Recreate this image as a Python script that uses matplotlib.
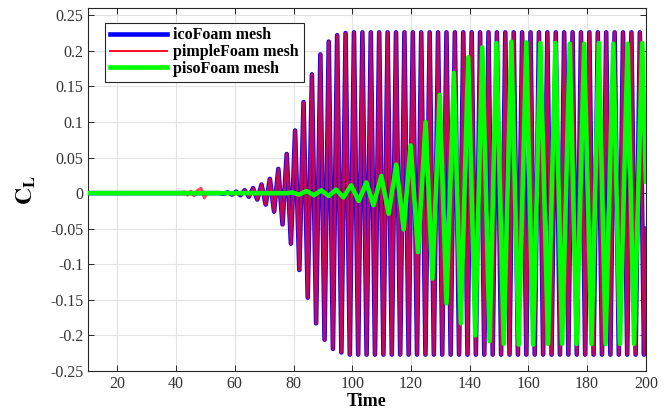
"""
Coeficiente de sustentación C_L vs tiempo: icoFoam / pimpleFoam / pisoFoam
Valores leídos de la figura (extremos de cada oscilación).
"""

import matplotlib
matplotlib.use("Agg")
import matplotlib.pyplot as plt
import matplotlib.ticker as mticker

# ─────────────────────────────────────────────
# DATOS (tiempo, C_L) en los picos y valles
# ─────────────────────────────────────────────

ico_t = [
    10.0, 55.0,
    56.20, 57.63, 59.06, 60.50, 61.93, 63.36, 64.79, 66.22, 67.66, 69.09,
    70.52, 71.95, 73.38, 74.82, 76.25, 77.68, 79.11, 80.54, 81.98, 83.41,
    84.84, 86.27, 87.70, 89.14, 90.57, 92.00, 93.43, 94.86, 96.30, 97.73,
    99.16, 100.59, 102.02, 103.46, 104.89, 106.32, 107.75, 109.18, 110.62, 112.05,
    113.48, 114.91, 116.34, 117.78, 119.21, 120.64, 122.07, 123.50, 124.94, 126.37,
    127.80, 129.23, 130.66, 132.10, 133.53, 134.96, 136.39, 137.82, 139.26, 140.69,
    142.12, 143.55, 144.98, 146.42, 147.85, 149.28, 150.71, 152.14, 153.58, 155.01,
    156.44, 157.87, 159.30, 160.74, 162.17, 163.60, 165.03, 166.46, 167.90, 169.33,
    170.76, 172.19, 173.62, 175.06, 176.49, 177.92, 179.35, 180.78, 182.22, 183.65,
    185.08, 186.51, 187.94, 189.38, 190.81, 192.24, 193.67, 195.10, 196.54, 197.97,
    199.40, 200.0,
]
ico_cl = [
    0.0, 0.0,
    -0.001, 0.001, -0.002, 0.002, -0.003, 0.004, -0.005, 0.007, -0.009, 0.012,
    -0.016, 0.020, -0.026, 0.034, -0.044, 0.055, -0.071, 0.088, -0.108, 0.128,
    -0.147, 0.167, -0.183, 0.195, -0.206, 0.213, -0.219, 0.222, -0.224, 0.225,
    -0.227, 0.226, -0.227, 0.226, -0.227, 0.226, -0.227, 0.226, -0.227, 0.226,
    -0.227, 0.226, -0.227, 0.226, -0.227, 0.226, -0.227, 0.226, -0.227, 0.226,
    -0.227, 0.226, -0.227, 0.226, -0.227, 0.226, -0.227, 0.226, -0.227, 0.226,
    -0.227, 0.226, -0.227, 0.226, -0.227, 0.226, -0.227, 0.226, -0.227, 0.226,
    -0.227, 0.226, -0.227, 0.226, -0.227, 0.226, -0.227, 0.226, -0.227, 0.226,
    -0.227, 0.226, -0.227, 0.226, -0.227, 0.226, -0.227, 0.226, -0.227, 0.226,
    -0.227, 0.226, -0.227, 0.226, -0.227, 0.226, -0.227, 0.226, -0.227, 0.226,
    -0.227, -0.050,
]

# pimpleFoam: transitorio inicial (t≈42–50) y luego sigue a icoFoam
pimple_early_t = [10.0, 42.0, 42.8, 43.9, 45.0, 46.1, 47.3, 48.5, 49.6, 50.6]
pimple_early_cl = [0.0, 0.0, 0.002, -0.003, 0.003, -0.004, 0.004, 0.007, -0.007, 0.0]

piso_t = [
    10.0, 78.0,
    79.5, 82.0, 84.4, 87.0, 89.4, 92.0, 94.5, 97.0, 99.6, 102.2,
    104.8, 107.2, 109.9, 112.4, 115.0, 117.5, 119.9, 122.4, 125.0, 127.3,
    129.8, 132.1, 134.6, 137.0, 139.5, 141.9, 144.3, 146.8, 149.1, 151.6,
    154.2, 156.7, 159.3, 161.6, 164.1, 166.7, 169.2, 171.5, 174.1, 176.4,
    179.0, 181.5, 184.0, 186.3, 188.9, 191.2, 193.8, 196.0, 198.8, 200.0,
]
piso_cl = [
    0.0, 0.0,
    0.001, -0.002, 0.003, -0.003, 0.004, -0.004, 0.005, -0.006, 0.011, -0.011,
    0.015, -0.017, 0.024, -0.029, 0.040, -0.051, 0.067, -0.083, 0.100, -0.120,
    0.138, -0.155, 0.169, -0.183, 0.191, -0.200, 0.205, -0.208, 0.211, -0.212,
    0.213, -0.213, 0.212, -0.213, 0.211, -0.212, 0.211, -0.212, 0.210, -0.212,
    0.210, -0.212, 0.211, -0.212, 0.210, -0.212, 0.210, -0.212, 0.211, 0.016,
]

etiquetas = ["icoFoam mesh", "pimpleFoam mesh", "pisoFoam mesh"]
x_ticks = [20, 40, 60, 80, 100, 120, 140, 160, 180, 200]
y_ticks = [-0.25, -0.2, -0.15, -0.1, -0.05, 0, 0.05, 0.1, 0.15, 0.2, 0.25]

# ─────────────────────────────────────────────
# FIGURA
# ─────────────────────────────────────────────

plt.rcParams["font.family"] = ["Liberation Serif", "DejaVu Serif"]
plt.rcParams["mathtext.fontset"] = "stix"

fig = plt.figure(figsize=(6.72, 4.09), dpi=100)
ax = fig.add_axes([0.131, 0.093, 0.830, 0.887])

pimple_t = pimple_early_t + ico_t[2:]
pimple_cl = pimple_early_cl + ico_cl[2:]

ax.plot(ico_t, ico_cl, color="#1a00e6", linewidth=3.3,
        solid_joinstyle="round", label=etiquetas[0], zorder=3)
ax.plot(pimple_t, pimple_cl, color="#ff0a2a", linewidth=2.0, alpha=0.75,
        solid_joinstyle="round", label=etiquetas[1], zorder=4)
ax.plot(piso_t, piso_cl, color="#00ff00", linewidth=3.3,
        solid_joinstyle="round", label=etiquetas[2], zorder=5)

ax.set_xlim(10, 200)
ax.set_ylim(-0.25, 0.26)
ax.set_xticks(x_ticks)
ax.set_yticks(y_ticks)
ax.yaxis.set_major_formatter(mticker.FuncFormatter(lambda v, p: f"{v:g}"))

ax.grid(True, color="#e3e3e3", linewidth=0.8)
ax.set_axisbelow(True)
for s in ax.spines.values():
    s.set_color("#262626")
    s.set_linewidth(0.8)
ax.tick_params(direction="in", length=4, width=0.7, top=True, right=True,
               colors="#262626", labelcolor="#333333", labelsize=11.5)

ax.set_xlabel("Time", fontsize=13, fontweight="bold")
ax.xaxis.set_label_coords(0.5, -0.062)
ax.set_ylabel(r"$\mathbf{C_L}$", fontsize=17)
ax.yaxis.set_label_coords(-0.09, 0.5)

leg = ax.legend(loc="upper left", bbox_to_anchor=(0.03, 0.96), borderaxespad=0,
                fancybox=False, edgecolor="#262626", framealpha=1,
                prop={"weight": "bold", "size": 11.5}, handlelength=3.6,
                labelspacing=0.05, borderpad=0.3, handletextpad=0.4)
leg.get_frame().set_linewidth(0.8)
leg.get_lines()[0].set_color("#0000ff")
leg.get_lines()[1].set_linewidth(1.4)
leg.get_lines()[1].set_alpha(1.0)

fig.savefig("out.png", dpi=100)
